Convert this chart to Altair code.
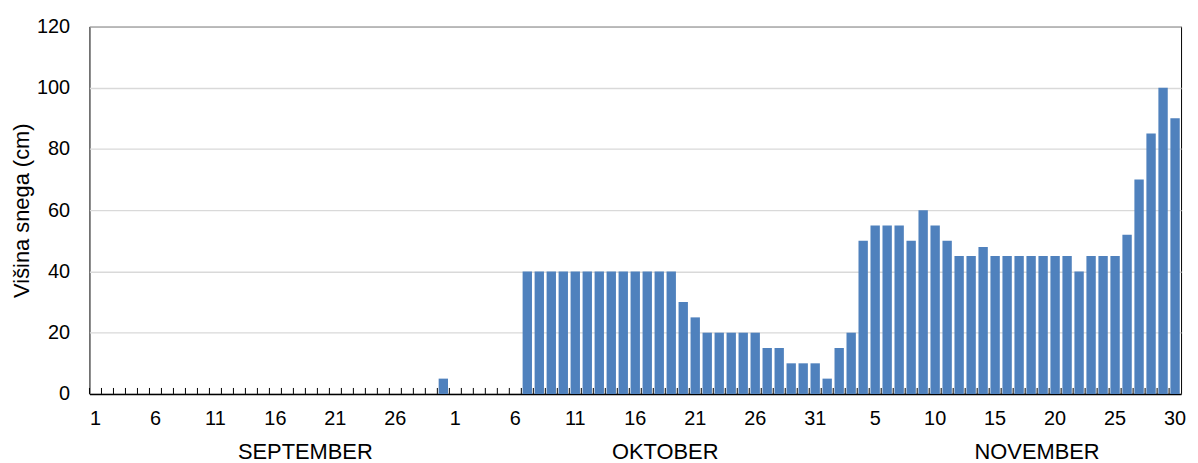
import altair as alt
import pandas as pd

# Snow depth (cm), one value per day
sep_depth = [0, 0, 0, 0, 0, 0, 0, 0, 0, 0,
             0, 0, 0, 0, 0, 0, 0, 0, 0, 0,
             0, 0, 0, 0, 0, 0, 0, 0, 0, 5]
oct_depth = [0, 0, 0, 0, 0, 0, 40, 40, 40, 40,
             40, 40, 40, 40, 40, 40, 40, 40, 40, 30,
             25, 20, 20, 20, 20, 20, 15, 15, 10, 10, 10]
nov_depth = [5, 15, 20, 50, 55, 55, 55, 50, 60, 55,
             50, 45, 45, 48, 45, 45, 45, 45, 45, 45,
             45, 40, 45, 45, 45, 52, 70, 85, 100, 90]

month_names = ["SEPTEMBER", "OKTOBER", "NOVEMBER"]
month_lengths = [30, 31, 30]
month_label_pos = [17, 47, 78]
y_ticks = [0, 20, 40, 60, 80, 100, 120]

depths = sep_depth + oct_depth + nov_depth
days = []
months = []
for name, n in zip(month_names, month_lengths):
    days += list(range(1, n + 1))
    months += [name] * n

df = pd.DataFrame({
    "idx": list(range(len(depths))),
    "day": days,
    "month": months,
    "depth": depths,
})
month_df = pd.DataFrame({"idx": month_label_pos, "name": month_names})

W, H = 1099, 370
FONT = "Liberation Sans"

day_array = "[" + ",".join(str(d) for d in days) + "]"
label_expr = f"datum.value % 5 == 0 ? {day_array}[datum.value] : ''"

x_scale = alt.Scale(paddingInner=0.22, paddingOuter=0.11)

bars = alt.Chart(df).mark_bar(color="#4f81bd").encode(
    x=alt.X("idx:O", scale=x_scale,
            axis=alt.Axis(title=None, labelExpr=label_expr, labelAngle=0,
                          labelOverlap=False, ticks=False, domain=True,
                          domainColor="black", domainWidth=1.5,
                          labelFont=FONT, labelFontSize=20, labelColor="black",
                          labelPadding=15)),
    y=alt.Y("depth:Q", scale=alt.Scale(domain=[0, 120]),
            axis=alt.Axis(title="Višina snega (cm)", values=y_ticks, ticks=False,
                          domain=False, grid=True, gridColor="#d9d9d9",
                          gridWidth=1.3,
                          labelFont=FONT, labelFontSize=20, labelColor="black",
                          labelPadding=20, titleFont=FONT, titleFontSize=22,
                          titleFontWeight="normal", titleColor="black",
                          titlePadding=3)),
)

ticks = alt.Chart(df).mark_rule(color="black", strokeWidth=1, xOffset=-1.3).encode(
    x=alt.X("idx:O", bandPosition=0),
    y=alt.value(H),
    y2=alt.value(H - 6),
)

month_text = alt.Chart(month_df).mark_text(
    font=FONT, fontSize=22, color="black", baseline="middle", align="center",
    xOffset=6
).encode(
    x=alt.X("idx:O"),
    y=alt.value(H + 59),
    text="name:N",
)

chart = alt.layer(bars, ticks, month_text).properties(
    width=W, height=H,
    autosize="none",
    padding={"left": 82, "top": 17, "right": 9, "bottom": 72},
).configure_view(stroke="black", strokeWidth=1)

chart.save("out.html", embed_options={"renderer": "svg", "actions": False})
